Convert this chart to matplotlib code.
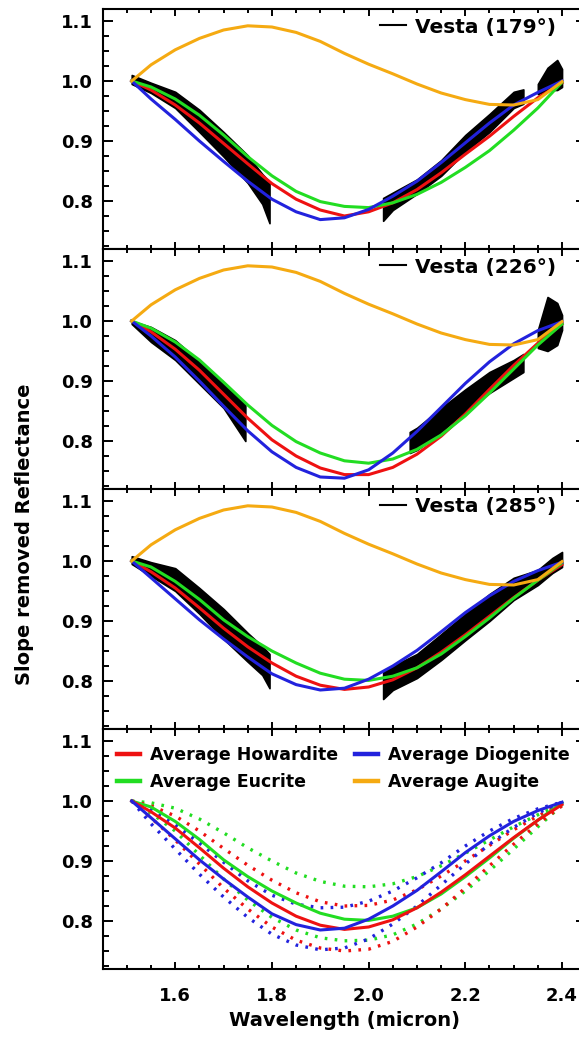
import matplotlib
matplotlib.use('Agg')
import matplotlib.pyplot as plt
from matplotlib.lines import Line2D
from matplotlib.ticker import MultipleLocator, FormatStrFormatter

plt.rcParams['font.family'] = ['DejaVu Sans']
plt.rcParams['font.weight'] = 'bold'

# ---------------- data ----------------
wavelength = [1.51, 1.55, 1.60, 1.65, 1.70, 1.75, 1.80, 1.85, 1.90, 1.95,
              2.00, 2.05, 2.10, 2.15, 2.20, 2.25, 2.30, 2.35, 2.40]

augite = [1.000, 1.027, 1.052, 1.071, 1.085, 1.092, 1.090, 1.081, 1.066, 1.046,
          1.028, 1.012, 0.995, 0.980, 0.969, 0.961, 0.960, 0.969, 0.999]

# panel 1 (179 deg) scaled averages
how_179 = [1.000, 0.985, 0.960, 0.930, 0.896, 0.862, 0.829, 0.803, 0.785, 0.775,
           0.782, 0.797, 0.819, 0.847, 0.878, 0.908, 0.941, 0.972, 0.997]
dio_179 = [1.000, 0.970, 0.936, 0.900, 0.866, 0.833, 0.803, 0.782, 0.769, 0.772,
           0.786, 0.808, 0.833, 0.864, 0.897, 0.930, 0.960, 0.981, 1.000]
euc_179 = [1.000, 0.990, 0.970, 0.943, 0.910, 0.874, 0.842, 0.816, 0.799, 0.791,
           0.789, 0.797, 0.811, 0.831, 0.856, 0.884, 0.918, 0.955, 0.998]

# panel 2 (226 deg)
how_226 = [1.000, 0.982, 0.953, 0.918, 0.878, 0.838, 0.802, 0.775, 0.755, 0.744,
           0.744, 0.756, 0.778, 0.808, 0.845, 0.886, 0.926, 0.963, 0.995]
dio_226 = [1.000, 0.975, 0.940, 0.900, 0.858, 0.817, 0.782, 0.756, 0.740, 0.738,
           0.752, 0.780, 0.816, 0.856, 0.896, 0.932, 0.962, 0.984, 0.999]
euc_226 = [1.000, 0.988, 0.965, 0.935, 0.898, 0.860, 0.826, 0.799, 0.780, 0.767,
           0.763, 0.770, 0.786, 0.810, 0.842, 0.880, 0.920, 0.960, 0.995]

# panel 3 (285 deg) and bottom panel: averages
how_avg = [1.000, 0.982, 0.955, 0.922, 0.888, 0.857, 0.830, 0.808, 0.793, 0.786,
           0.790, 0.802, 0.822, 0.848, 0.877, 0.908, 0.939, 0.968, 0.994]
dio_avg = [1.000, 0.972, 0.937, 0.902, 0.870, 0.840, 0.812, 0.794, 0.785, 0.788,
           0.803, 0.825, 0.851, 0.882, 0.914, 0.942, 0.966, 0.984, 0.998]
euc_avg = [1.000, 0.990, 0.966, 0.936, 0.902, 0.874, 0.850, 0.830, 0.813, 0.803,
           0.801, 0.808, 0.822, 0.845, 0.874, 0.905, 0.938, 0.968, 0.997]

# bottom panel: ranges (dotted)
how_hi = [1.000, 0.992, 0.975, 0.950, 0.921, 0.893, 0.868, 0.847, 0.832, 0.825,
          0.826, 0.835, 0.852, 0.875, 0.900, 0.926, 0.952, 0.975, 0.995]
how_lo = [1.000, 0.972, 0.935, 0.895, 0.855, 0.820, 0.790, 0.768, 0.755, 0.750,
          0.753, 0.766, 0.790, 0.820, 0.855, 0.892, 0.928, 0.962, 0.992]
dio_hi = [1.000, 0.985, 0.960, 0.930, 0.898, 0.867, 0.843, 0.828, 0.822, 0.823,
          0.833, 0.850, 0.872, 0.897, 0.925, 0.950, 0.971, 0.987, 0.998]
dio_lo = [1.000, 0.962, 0.920, 0.878, 0.840, 0.806, 0.778, 0.760, 0.752, 0.755,
          0.770, 0.795, 0.825, 0.860, 0.895, 0.928, 0.956, 0.980, 0.998]
euc_hi = [1.000, 0.997, 0.988, 0.970, 0.947, 0.922, 0.900, 0.880, 0.866, 0.858,
          0.857, 0.862, 0.874, 0.892, 0.913, 0.935, 0.957, 0.977, 0.995]
euc_lo = [1.000, 0.980, 0.950, 0.910, 0.870, 0.835, 0.806, 0.785, 0.772, 0.767,
          0.768, 0.777, 0.795, 0.820, 0.850, 0.884, 0.920, 0.957, 0.993]

# Vesta spectra envelopes (segments: wavelength, upper, lower)
v179_segments = [
    ([1.51, 1.55, 1.60, 1.65, 1.70, 1.75, 1.78, 1.795],
     [1.010, 0.997, 0.982, 0.952, 0.915, 0.876, 0.845, 0.832],
     [0.995, 0.980, 0.955, 0.915, 0.874, 0.830, 0.795, 0.763]),
    ([2.03, 2.05, 2.10, 2.15, 2.20, 2.25, 2.30, 2.32],
     [0.805, 0.814, 0.836, 0.868, 0.910, 0.945, 0.982, 0.986],
     [0.767, 0.785, 0.812, 0.842, 0.882, 0.915, 0.955, 0.962]),
    ([2.35, 2.37, 2.39, 2.40],
     [0.995, 1.022, 1.035, 1.020],
     [0.978, 0.985, 0.985, 0.990]),
]
v226_segments = [
    ([1.51, 1.55, 1.60, 1.65, 1.70, 1.745],
     [1.000, 0.990, 0.968, 0.933, 0.895, 0.860],
     [0.995, 0.965, 0.935, 0.895, 0.855, 0.800]),
    ([2.085, 2.10, 2.15, 2.20, 2.25, 2.30, 2.32],
     [0.815, 0.822, 0.855, 0.886, 0.915, 0.935, 0.945],
     [0.780, 0.785, 0.815, 0.850, 0.880, 0.905, 0.915]),
    ([2.35, 2.37, 2.39, 2.40],
     [0.985, 1.040, 1.030, 1.010],
     [0.955, 0.950, 0.960, 0.985]),
]
v285_segments = [
    ([1.51, 1.55, 1.60, 1.65, 1.70, 1.75, 1.78, 1.795],
     [1.008, 0.998, 0.988, 0.955, 0.920, 0.880, 0.858, 0.845],
     [0.995, 0.975, 0.950, 0.912, 0.870, 0.832, 0.810, 0.788]),
    ([2.03, 2.05, 2.10, 2.15, 2.20, 2.25, 2.30, 2.35, 2.38, 2.40],
     [0.815, 0.825, 0.845, 0.878, 0.912, 0.945, 0.972, 0.985, 1.005, 1.015],
     [0.770, 0.785, 0.805, 0.835, 0.868, 0.900, 0.935, 0.960, 0.980, 0.990]),
]

vesta_labels = ['Vesta (179°)', 'Vesta (226°)', 'Vesta (285°)']
legend_labels = ['Average Howardite', 'Average Diogenite', 'Average Eucrite', 'Average Augite']
xticks = [1.6, 1.8, 2.0, 2.2, 2.4]
yticks = [0.8, 0.9, 1.0, 1.1]

# ---------------- style ----------------
RED = '#ee1111'
BLUE = '#2222dd'
GREEN = '#22dd22'
ORANGE = '#f5aa12'
LW = 2.2

W, H = 579, 1039
fig = plt.figure(figsize=(W / 100, H / 100), dpi=100)

left_px = 102.7
ax_w_px = 483.5
panel_h = 240
top_px = 9

axes = []
for k in range(4):
    bottom_px = H - top_px - panel_h * (k + 1)
    ax = fig.add_axes([left_px / W, bottom_px / H, ax_w_px / W, panel_h / H])
    ax.set_xlim(1.45, 2.45)
    ax.set_ylim(0.72, 1.12)
    ax.xaxis.set_major_locator(MultipleLocator(0.2))
    ax.xaxis.set_minor_locator(MultipleLocator(0.05))
    ax.yaxis.set_major_locator(MultipleLocator(0.1))
    ax.yaxis.set_minor_locator(MultipleLocator(0.025))
    ax.set_yticks(yticks)
    ax.yaxis.set_major_formatter(FormatStrFormatter('%.1f'))
    ax.tick_params(which='both', direction='in', top=True, right=True, width=1.4, colors='black')
    ax.tick_params(axis='y', which='major', length=7.5, labelsize=13, pad=7)
    ax.tick_params(axis='y', which='minor', length=4)
    ax.tick_params(axis='x', which='major', length=5, labelsize=13, pad=13)
    ax.tick_params(axis='x', which='minor', length=3)
    for s in ax.spines.values():
        s.set_linewidth(1.5)
    for lab in ax.get_yticklabels():
        lab.set_fontweight('bold')
    if k < 3:
        ax.tick_params(axis='x', labelbottom=False)
    else:
        ax.set_xticks(xticks)
        ax.xaxis.set_major_formatter(FormatStrFormatter('%.1f'))
        for lab in ax.get_xticklabels():
            lab.set_fontweight('bold')
    axes.append(ax)

vesta_sets = [v179_segments, v226_segments, v285_segments]
model_sets = [
    (how_179, dio_179, euc_179),
    (how_226, dio_226, euc_226),
    (how_avg, dio_avg, euc_avg),
]

for k in range(3):
    ax = axes[k]
    for wl, up, lo in vesta_sets[k]:
        ax.fill_between(wl, lo, up, color='black', lw=1.2, zorder=1)
    h, d, e = model_sets[k]
    ax.plot(wavelength, h, color=RED, lw=LW, zorder=3)
    ax.plot(wavelength, e, color=GREEN, lw=LW, zorder=3)
    ax.plot(wavelength, d, color=BLUE, lw=LW, zorder=3)
    ax.plot(wavelength, augite, color=ORANGE, lw=LW, zorder=4)
    ax.legend([Line2D([], [], color='black', lw=1.5)], [vesta_labels[k]],
              loc='center right', bbox_to_anchor=(0.9375, 0.925),
              frameon=False, handlelength=1.3, handletextpad=0.45,
              borderpad=0, borderaxespad=0,
              prop={'size': 14.5, 'weight': 'bold'})

# bottom panel
ax = axes[3]
dot = (0, (0.8, 2.2))
for arr, c in [(euc_hi, GREEN), (euc_lo, GREEN), (how_hi, RED), (how_lo, RED),
               (dio_hi, BLUE), (dio_lo, BLUE)]:
    ax.plot(wavelength, arr, color=c, lw=2.4, linestyle=dot, zorder=2)
ax.plot(wavelength, euc_avg, color=GREEN, lw=LW, zorder=3)
ax.plot(wavelength, how_avg, color=RED, lw=LW, zorder=3)
ax.plot(wavelength, dio_avg, color=BLUE, lw=LW, zorder=3)

handles = [Line2D([], [], color=RED, lw=3.2), Line2D([], [], color=GREEN, lw=3.2),
           Line2D([], [], color=BLUE, lw=3.2), Line2D([], [], color=ORANGE, lw=3.2)]
labels = [legend_labels[0], legend_labels[2], legend_labels[1], legend_labels[3]]
ax.legend(handles, labels, ncol=2, loc='center left', bbox_to_anchor=(0.0304, 0.835),
          frameon=False, handlelength=1.32, handletextpad=0.55, columnspacing=1.0,
          labelspacing=0.5, borderpad=0, borderaxespad=0,
          prop={'size': 12.5, 'weight': 'bold'})

ax.set_xlabel('Wavelength (micron)', fontsize=14, fontweight='bold', labelpad=4)

fig.text(25 / W, 1 - 534 / H, 'Slope removed Reflectance', rotation=90,
         ha='center', va='center', fontsize=14, fontweight='bold')

fig.savefig('out.png', dpi=100)
